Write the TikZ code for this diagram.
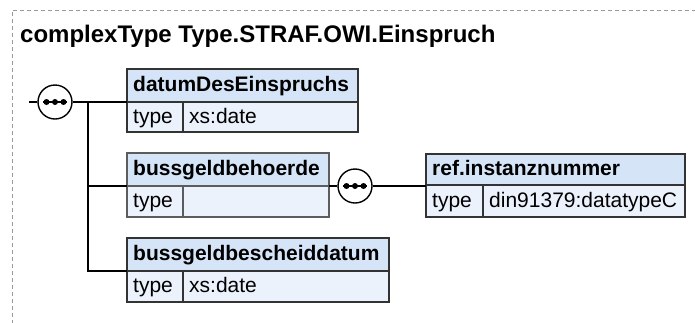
\documentclass[tikz,border=0pt]{standalone}
\usepackage{fontspec}
\setmainfont{Liberation Sans}
\definecolor{hdr}{HTML}{D6E4F8}
\definecolor{rowc}{HTML}{EBF2FC}
\definecolor{bord}{HTML}{333333}
\definecolor{lbord}{HTML}{5C5C5C}
\definecolor{framec}{HTML}{9A9A9A}
\tikzset{
  conn/.style={line width=1.4pt, black},
  hdrbox/.style={draw=bord, fill=hdr, line width=1.4pt},
  rowbox/.style={draw=bord, fill=rowc, line width=1.4pt},
  hdrtext/.style={anchor=base west, inner sep=0pt, font=\fontsize{21}{24}\selectfont\bfseries},
  rowtext/.style={anchor=base west, inner sep=0pt, font=\fontsize{21}{24}\selectfont},
  seqcirc/.style={circle, draw=black, fill=white, line width=1.4pt, minimum size=34pt, inner sep=0pt},
  dotc/.style={fill=black},
}
\begin{document}
\begin{tikzpicture}[x=1pt,y=-1pt]
\useasboundingbox (0,0) rectangle (695,322);
% frame
\draw[framec, line width=1pt, dash pattern=on 4pt off 3pt] (12,345) -- (12,10) -- (720,10);
\node[anchor=base west, inner sep=0pt, font=\fontsize{24}{28}\selectfont\bfseries] (title) at (20,42) {complexType Type.STRAF.OWI.Einspruch};

% box 1: datumDesEinspruchs
\path[hdrbox] (127,69) rectangle (358,102);
\path[rowbox] (127,102) rectangle (358,132);
\draw[bord, line width=1.4pt] (183,102) -- (183,132);
\draw[bord, line width=1.4pt] (127,69) rectangle (358,132);
\node[hdrtext] (n1) at (133,91) {datumDesEinspruchs};
\node[rowtext] (t1) at (133,123) {type};
\node[rowtext] (v1) at (189,123) {xs:date};
\coordinate (b1) at (127,102);

% box 2: bussgeldbehoerde
\path[hdrbox, draw=lbord] (127,153) rectangle (329,186);
\path[rowbox, draw=lbord] (127,186) rectangle (329,217);
\draw[lbord, line width=1.4pt] (183,186) -- (183,217);
\draw[lbord, line width=1.4pt] (127,153) rectangle (329,217);
\node[hdrtext] (n2) at (133,175) {bussgeldbehoerde};
\node[rowtext] (t2) at (133,207) {type};
\coordinate (b2) at (127,186);
\coordinate (b2r) at (329,186);

% box 3: bussgeldbescheiddatum
\path[hdrbox] (127,238) rectangle (389,271);
\path[rowbox] (127,271) rectangle (389,302);
\draw[bord, line width=1.4pt] (183,271) -- (183,302);
\draw[bord, line width=1.4pt] (127,238) rectangle (389,302);
\node[hdrtext] (n3) at (133,260) {bussgeldbescheiddatum};
\node[rowtext] (t3) at (133,292) {type};
\node[rowtext] (v3) at (189,292) {xs:date};
\coordinate (b3) at (127,271);

% ref box
\path[hdrbox] (426,154) rectangle (685,185);
\path[rowbox] (426,185) rectangle (685,217);
\draw[bord, line width=1.4pt] (483,185) -- (483,217);
\draw[bord, line width=1.4pt] (426,154) rectangle (685,217);
\node[hdrtext] (n4) at (432,175) {ref.instanznummer};
\node[rowtext] (t4) at (432,207) {type};
\node[rowtext] (v4) at (489,207) {din91379:datatypeC};
\coordinate (b4) at (426,186);

% sequence 1
\coordinate (in1) at (29,102);
\node[seqcirc] (s1) at (55,102) {};
\coordinate (sp1) at (88,102);
\coordinate (sp2) at (88,186);
\coordinate (sp3) at (88,271);
\draw[conn] (in1) -- (s1.west);
\draw[conn] (s1.east) -- (sp1) -- (b1);
\draw[conn] (sp1) -- (sp3) -- (b3);
\draw[conn] (sp2) -- (b2);
\draw[conn] ([xshift=-12pt]s1.center) -- ([xshift=12pt]s1.center);
\foreach \d in {-8.5,0,8.5} \fill[dotc] ([xshift=\d pt]s1.center) circle (3pt);

% sequence 2
\node[seqcirc] (s2) at (355,186) {};
\draw[conn] (b2r) -- (s2.west);
\draw[conn] (s2.east) -- (b4);
\draw[conn] ([xshift=-12pt]s2.center) -- ([xshift=12pt]s2.center);
\foreach \d in {-8.5,0,8.5} \fill[dotc] ([xshift=\d pt]s2.center) circle (3pt);
\end{tikzpicture}
\end{document}
